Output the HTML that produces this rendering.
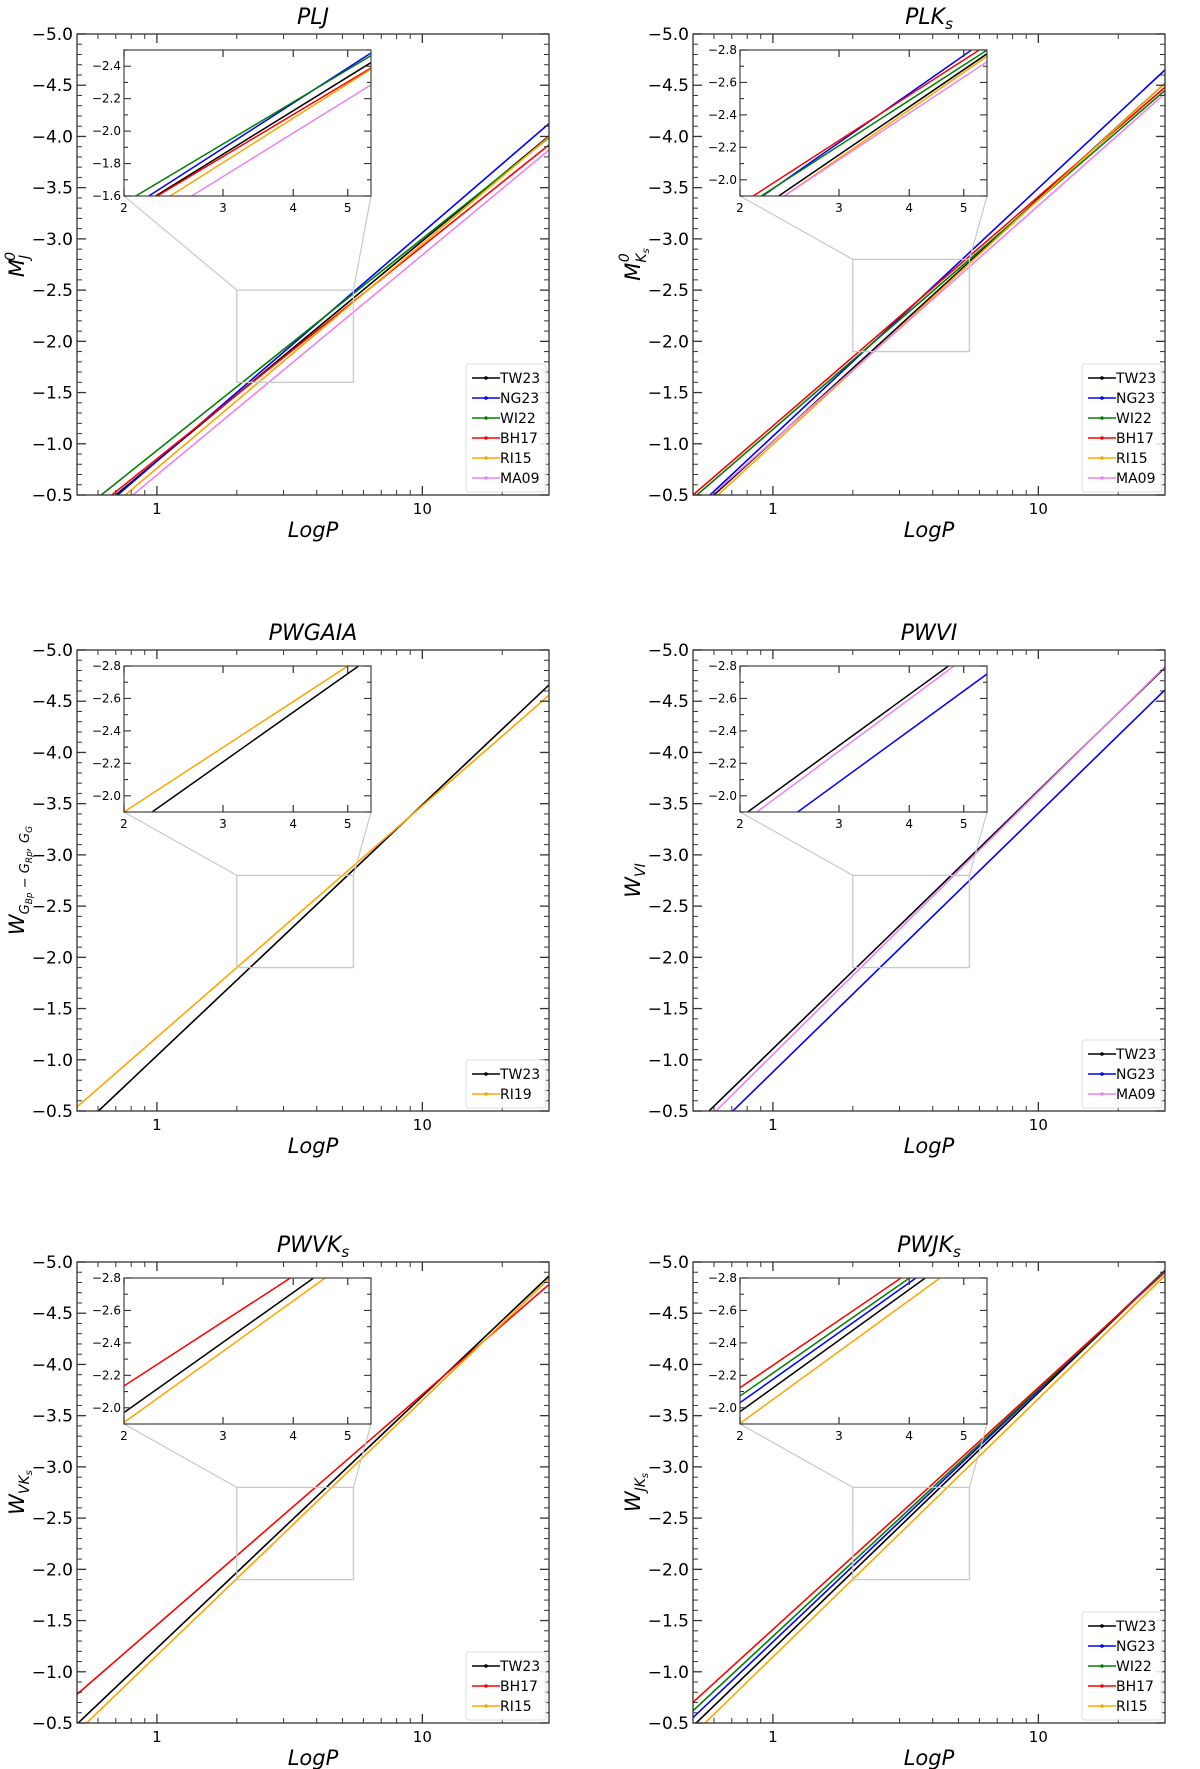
<!DOCTYPE html>
<html><head><meta charset="utf-8">
<style>
body{margin:0;background:#fff;}
svg{display:block;font-family:"DejaVu Sans","Liberation Sans",sans-serif;}
</style></head>
<body>
<svg id="fig" width="1200" height="1769" viewBox="0 0 1200 1769" xmlns="http://www.w3.org/2000/svg"></svg>
<script>
// ---- data (line fits: magnitude at P=1 and slope per dex) ----
const pljNames=["TW23","NG23","WI22","BH17","RI15","MA09"];
const pljY0=[-0.833,-0.830,-0.934,-0.853,-0.761,-0.695];
const pljSlope=[2.147,2.231,2.068,2.075,2.19,2.148];

const plkNames=["TW23","NG23","WI22","BH17","RI15","MA09"];
const plkY0=[-1.025,-1.074,-1.141,-1.174,-0.994,-1.028];
const plkSlope=[2.366,2.421,2.240,2.238,2.387,2.296];

const pwgNames=["TW23","RI19"];
const pwgY0=[-1.04,-1.22];
const pwgSlope=[2.45,2.26];

const pwviNames=["TW23","NG23","MA09"];
const pwviY0=[-1.107,-0.881,-1.051];
const pwviSlope=[2.52,2.525,2.565];

const pwvkNames=["TW23","BH17","RI15"];
const pwvkY0=[-1.23,-1.457,-1.16];
const pwvkSlope=[2.46,2.25,2.49];

const pwjkNames=["TW23","NG23","WI22","BH17","RI15"];
const pwjkY0=[-1.223,-1.292,-1.346,-1.413,-1.145];
const pwjkSlope=[2.501,2.456,2.413,2.361,2.52];

const xMajorTicks=[1,10];
const xMinorTicks=[0.6,0.7,0.8,0.9,2,3,4,5,6,7,8,9,20,30];
const insetXTicks=[2,3,4,5];

const colors={TW23:"#000000",NG23:"#0000ff",WI22:"#008000",BH17:"#ff0000",RI15:"#ffa500",RI19:"#ffa500",MA09:"#ee82ee"};
const NS="http://www.w3.org/2000/svg";
const svg=document.getElementById('fig');
function mk(tag,attrs,parent){const e=document.createElementNS(NS,tag);for(const k in attrs)e.setAttribute(k,attrs[k]);(parent||svg).appendChild(e);return e;}
const W=472,H=461,XMIN=0.5,XMAX=30,YTOP=-5.0,YBOT=-0.5;
const fmt=v=>(v<0?"\u2212":"")+Math.abs(v).toFixed(1);

function panel(id,ox,oy,title,ylabelHTML,names,y0s,slopes,insetTop,insetBot,pid){
  const g=mk('g',{});
  
  
  const xs=P=>ox+(Math.log10(P)-Math.log10(XMIN))/(Math.log10(XMAX)-Math.log10(XMIN))*W;
  const ys=v=>oy+(v-YTOP)/(YBOT-YTOP)*H;
  const clip=mk('clipPath',{id:'c'+id},g);mk('rect',{x:ox,y:oy,width:W,height:H},clip);
  // title
  const t=mk('text',{x:ox+W/2,y:oy-10,'text-anchor':'middle','font-size':22,'font-style':'italic'},g);t.innerHTML=title;
  
  // series
  const lg=mk('g',{'clip-path':'url(#c'+id+')'},g);
  names.forEach((n,i)=>{
    const f=P=>y0s[i]-slopes[i]*Math.log10(P);
    const l=mk('line',{x1:xs(XMIN),y1:ys(f(XMIN)),x2:xs(XMAX),y2:ys(f(XMAX)),stroke:colors[n],'stroke-width':1.6},lg);
    
    
  });
  // axes frame
  mk('rect',{x:ox,y:oy,width:W,height:H,fill:'none',stroke:'#333','stroke-width':1.3},g);
  // x ticks
  xMajorTicks.forEach(P=>{const x=xs(P);mk('line',{x1:x,y1:oy+H,x2:x,y2:oy+H-9,stroke:'#333','stroke-width':1.3},g);mk('line',{x1:x,y1:oy,x2:x,y2:oy+9,stroke:'#333','stroke-width':1.3},g);
    const tl=mk('text',{x:x,y:oy+H+19,'text-anchor':'middle','font-size':15},g);tl.textContent=P;});
  xMinorTicks.forEach(P=>{const x=xs(P);mk('line',{x1:x,y1:oy+H,x2:x,y2:oy+H-5,stroke:'#333','stroke-width':1},g);mk('line',{x1:x,y1:oy,x2:x,y2:oy+5,stroke:'#333','stroke-width':1},g);});
  // y ticks
  for(let k=0;k<=45;k++){const v=-5+k*0.1;const y=ys(v);const maj=k%5===0;const L=maj?9:5;
    mk('line',{x1:ox,y1:y,x2:ox+L,y2:y,stroke:'#333','stroke-width':maj?1.3:1},g);
    mk('line',{x1:ox+W,y1:y,x2:ox+W-L,y2:y,stroke:'#333','stroke-width':maj?1.3:1},g);
    if(maj){const tl=mk('text',{x:ox-4,y:y+6,'text-anchor':'end','font-size':17},g);tl.textContent=fmt(v);}}
  // axis labels
  const xl=mk('text',{x:ox+W/2,y:oy+H+42,'text-anchor':'middle','font-size':21,'font-style':'italic'},g);xl.textContent="LogP";
  
  const yl=mk('text',{x:0,y:0,'text-anchor':'middle','font-size':21,'font-style':'italic',transform:`translate(${ox-53},${oy+H/2}) rotate(-90)`},g);yl.innerHTML=ylabelHTML;
  
  // zoom rectangle
  const rx1=xs(2),rx2=xs(5.5),ry1=ys(insetTop),ry2=ys(insetBot);
  mk('rect',{x:rx1,y:ry1,width:rx2-rx1,height:ry2-ry1,fill:'none',stroke:'#c8c8c8','stroke-width':1.3},g);
  // inset
  const ix=ox+47,iy=oy+16,iw=247,ih=146;
  mk('line',{x1:ix,y1:iy+ih,x2:rx1,y2:ry1,stroke:'#c8c8c8','stroke-width':1.2},g);
  mk('line',{x1:ix+iw,y1:iy+ih,x2:rx2,y2:ry1,stroke:'#c8c8c8','stroke-width':1.2},g);
  const ig=mk('g',{},g);
  
  mk('rect',{x:ix,y:iy,width:iw,height:ih,fill:'#fff'},ig);
  const ixs=P=>ix+(Math.log10(P)-Math.log10(2))/(Math.log10(5.5)-Math.log10(2))*iw;
  const iys=v=>iy+(v-insetTop)/(insetBot-insetTop)*ih;
  const ic=mk('clipPath',{id:'ic'+id},ig);mk('rect',{x:ix,y:iy,width:iw,height:ih},ic);
  const il=mk('g',{'clip-path':'url(#ic'+id+')'},ig);
  names.forEach((n,i)=>{
    const f=P=>y0s[i]-slopes[i]*Math.log10(P);
    const l=mk('line',{x1:ixs(2),y1:iys(f(2)),x2:ixs(5.5),y2:iys(f(5.5)),stroke:colors[n],'stroke-width':1.5},il);
    
    
  });
  mk('rect',{x:ix,y:iy,width:iw,height:ih,fill:'none',stroke:'#444','stroke-width':1.2},ig);
  insetXTicks.forEach(P=>{const x=ixs(P);mk('line',{x1:x,y1:iy+ih,x2:x,y2:iy+ih-7,stroke:'#333','stroke-width':1.2},ig);mk('line',{x1:x,y1:iy,x2:x,y2:iy+7,stroke:'#333','stroke-width':1.2},ig);
    const tl=mk('text',{x:x,y:iy+ih+16,'text-anchor':'middle','font-size':12},ig);tl.textContent=P;});
  const lo=Math.min(insetTop,insetBot),hi=Math.max(insetTop,insetBot);
  for(let k=0;k<=Math.round((hi-lo)*10);k++){const v=lo+k*0.1;const y=iys(v);const maj=Math.round(Math.abs(v)*10)%2===0;const L=maj?7:4;
    mk('line',{x1:ix,y1:y,x2:ix+L,y2:y,stroke:'#333','stroke-width':1.1},ig);
    mk('line',{x1:ix+iw,y1:y,x2:ix+iw-L,y2:y,stroke:'#333','stroke-width':1.1},ig);
    if(maj){const tl=mk('text',{x:ix-3,y:y+4,'text-anchor':'end','font-size':12},ig);tl.textContent=fmt(v);}}
  // legend
  const n=names.length,lw=80,lh=n*20+8,lx=ox+W-lw-3,ly=oy+H-lh-3;
  const leg=mk('g',{},g);
  
  mk('rect',{x:lx,y:ly,width:lw,height:lh,rx:3,fill:'#fff','fill-opacity':0.85,stroke:'#dcdcdc'},leg);
  names.forEach((nm,i)=>{const y=ly+14+i*20;
    const e=mk('g',{},leg);
    
    mk('line',{x1:lx+6,y1:y,x2:lx+34,y2:y,stroke:colors[nm],'stroke-width':1.6},e);
    mk('circle',{cx:lx+20,cy:y,r:1.8,fill:colors[nm]},e);
    const tl=mk('text',{x:lx+34,y:y+5,'font-size':14},e);tl.textContent=nm;});
}
panel(1,77,34,"PLJ",'M<tspan font-size="14" dy="5">J</tspan><tspan font-size="14" dy="-14" dx="-6">0</tspan>',pljNames,pljY0,pljSlope,-2.5,-1.6,'plj');
panel(2,693,34,'PLK<tspan font-size="15" dy="5">s</tspan>','M<tspan font-size="14" dy="6">K</tspan><tspan font-size="10" dy="3">s</tspan><tspan font-size="14" dy="-20" dx="-14">0</tspan>',plkNames,plkY0,plkSlope,-2.8,-1.9,'plks');
panel(3,77,650,"PWGAIA",'W<tspan font-size="13" dy="5">G</tspan><tspan font-size="9" dy="3">Bp</tspan><tspan font-size="13" dy="-3"> − G</tspan><tspan font-size="9" dy="3">Rp</tspan><tspan font-size="13" dy="-3">, G</tspan><tspan font-size="9" dy="3">G</tspan>',pwgNames,pwgY0,pwgSlope,-2.8,-1.9,'pwgaia');
panel(4,693,650,"PWVI",'W<tspan font-size="14" dy="5">VI</tspan>',pwviNames,pwviY0,pwviSlope,-2.8,-1.9,'pwvi');
panel(5,77,1262,'PWVK<tspan font-size="15" dy="5">s</tspan>','W<tspan font-size="14" dy="5">VK</tspan><tspan font-size="10" dy="3">s</tspan>',pwvkNames,pwvkY0,pwvkSlope,-2.8,-1.9,'pwvks');
panel(6,693,1262,'PWJK<tspan font-size="15" dy="5">s</tspan>','W<tspan font-size="14" dy="5">JK</tspan><tspan font-size="10" dy="3">s</tspan>',pwjkNames,pwjkY0,pwjkSlope,-2.8,-1.9,'pwjks');
</script>
</body></html>
